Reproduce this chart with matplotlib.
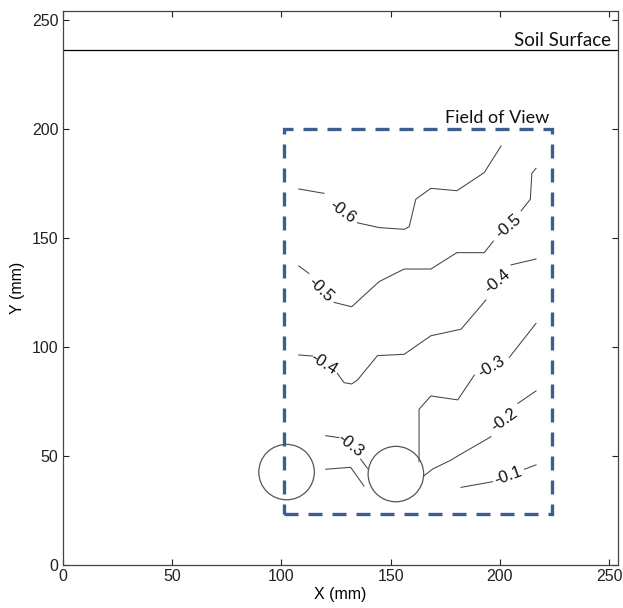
import matplotlib
matplotlib.use("Agg")
import matplotlib.pyplot as plt
from matplotlib.patches import Circle, Rectangle

plt.rcParams['font.family'] = ['Liberation Sans', 'DejaVu Sans']

# ---- data ----
xlim = (0, 254)
ylim = (0, 254)
ticks = [0, 50, 100, 150, 200, 250]
soil_surface_y = 236.1
fov_x = (101.0, 223.9)
fov_y = (23.4, 199.9)
circle_centers_x = [102.4, 152.4]
circle_centers_y = [42.6, 41.7]
circle_radius = 12.7

# contour segments
c06_a_x = [108.0, 119.5]
c06_a_y = [172.4, 170.4]
c06_b_x = [134.8, 144.7, 156.2, 158.5, 161.5, 168.4, 180.3, 192.8, 200.5]
c06_b_y = [156.9, 154.7, 153.9, 155.1, 167.7, 172.7, 171.6, 179.9, 192.1]

c05_a_x = [216.5, 214.6, 213.9, 209.7]
c05_a_y = [181.9, 179.6, 167.7, 162.4]
c05_b_x = [197.0, 192.8, 180.3, 168.4, 156.2, 144.7, 132.2, 124.1]
c05_b_y = [148.5, 143.2, 143.2, 135.7, 135.7, 129.9, 118.4, 120.4]
c05_c_x = [108.0, 112.6]
c05_c_y = [137.1, 133.7]

c04_a_x = [216.5, 205.1]
c04_a_y = [140.3, 137.6]
c04_b_x = [193.6, 182.2, 168.4, 156.2, 144.0, 134.8, 132.2, 128.7, 125.6]
c04_b_y = [121.5, 108.1, 105.1, 96.6, 96.0, 84.8, 83.0, 83.6, 87.9]
c04_c_x = [108.0, 114.2]
c04_c_y = [96.3, 95.8]

c03_a_x = [216.5, 204.3]
c03_a_y = [110.8, 95.2]
c03_b_x = [188.3, 180.7, 168.4, 163.0, 163.0]
c03_b_y = [87.1, 75.7, 77.5, 71.4, 47.4]
c03_c_x = [120.3, 126.4]
c03_c_y = [59.3, 58.4]
c03_d_x = [136.3, 139.4]
c03_d_y = [48.5, 44.3]
c03_e_x = [120.3, 131.7, 137.8]
c03_e_y = [43.9, 44.8, 36.2]

c02_a_x = [216.5, 208.2]
c02_a_y = [79.8, 74.1]
c02_b_x = [195.9, 180.7, 177.6, 169.2, 165.1]
c02_b_y = [58.8, 50.0, 48.1, 44.0, 40.8]

c01_a_x = [216.5, 211.2]
c01_a_y = [45.9, 43.9]
c01_b_x = [196.7, 182.2]
c01_b_y = [38.2, 35.6]

label_text = ['-0.6', '-0.5', '-0.5', '-0.4', '-0.4', '-0.3', '-0.3', '-0.2', '-0.1']
label_x = [127.9, 204.0, 118.0, 199.0, 119.5, 196.0, 131.7, 202.0, 203.6]
label_y = [162.0, 155.3, 126.3, 129.9, 92.3, 91.0, 54.8, 66.5, 40.8]
label_rot = [-36, 40, -44, 40, -32, 30, -38, 36, 20]

segments_x = [c06_a_x, c06_b_x, c05_a_x, c05_b_x, c05_c_x, c04_a_x, c04_b_x, c04_c_x,
              c03_a_x, c03_b_x, c03_c_x, c03_d_x, c03_e_x, c02_a_x, c02_b_x, c01_a_x, c01_b_x]
segments_y = [c06_a_y, c06_b_y, c05_a_y, c05_b_y, c05_c_y, c04_a_y, c04_b_y, c04_c_y,
              c03_a_y, c03_b_y, c03_c_y, c03_d_y, c03_e_y, c02_a_y, c02_b_y, c01_a_y, c01_b_y]

# ---- figure ----
fig = plt.figure(figsize=(6.23, 6.08), dpi=100)
ax = fig.add_axes([62.7 / 623, 43 / 608, (618 - 62.7) / 623, (565 - 11) / 608])

for sx, sy in zip(segments_x, segments_y):
    ax.plot(sx, sy, color='#444444', lw=0.75, solid_joinstyle='miter')

for t, lx, ly, r in zip(label_text, label_x, label_y, label_rot):
    ax.text(lx, ly, t, rotation=r, ha='center', va='center', fontsize=12,
            color='#111111', rotation_mode='anchor')

for cx, cy in zip(circle_centers_x, circle_centers_y):
    ax.add_patch(Circle((cx, cy), circle_radius, fill=False, ec='#555555', lw=0.9))

ax.add_patch(Rectangle((fov_x[0], fov_y[0]), fov_x[1] - fov_x[0], fov_y[1] - fov_y[0],
                       fill=False, ec='#3a5f8f', lw=2.4, linestyle=(0, (4.2, 3.0))))

ax.axhline(soil_surface_y, color='black', lw=0.9)
ax.text(250.8, 237.9, 'Soil Surface', ha='right', va='baseline',
        fontsize=13.5, family=['Lato', 'DejaVu Sans'], color='#111111')
ax.text(222.5, 202.7, 'Field of View', ha='right', va='baseline',
        fontsize=13, family=['Lato', 'DejaVu Sans'], color='#111111')

ax.set_xlim(*xlim)
ax.set_ylim(*ylim)
ax.set_xticks(ticks)
ax.set_yticks(ticks)
ax.tick_params(direction='in', top=True, right=True, length=4, width=0.8,
               labelsize=11.5, colors='#222222', pad=3)
for s in ax.spines.values():
    s.set_color('#444444')
    s.set_linewidth(0.9)
ax.set_xlabel('X (mm)', fontsize=11.5, labelpad=2)
ax.set_ylabel('Y (mm)', fontsize=11.5, labelpad=5)

fig.savefig('out.png', dpi=100)
